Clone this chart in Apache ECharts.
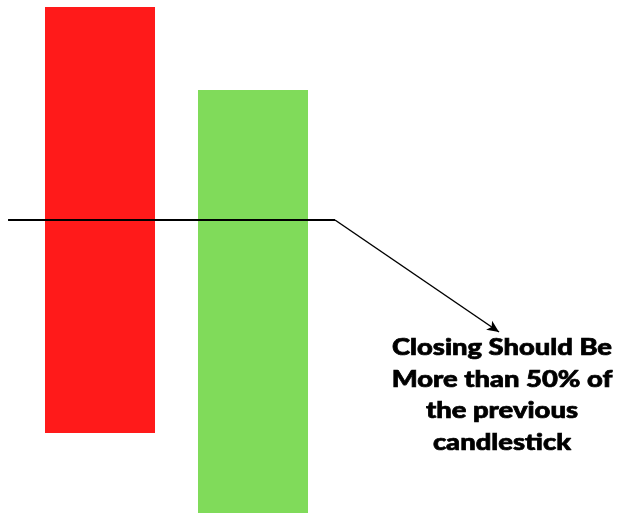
<!DOCTYPE html>
<html><head><meta charset="utf-8">
<script src="https://cdn.jsdelivr.net/npm/echarts@6/dist/echarts.min.js"></script>
<style>html,body{margin:0;padding:0;background:#fff}#c{width:629px;height:513px}</style>
</head><body><div id="c"></div>
<script>
// candles: [xIndex, open, close]
const candleX = [1, 2];
const candleOpen = [506, 0];
const candleClose = [80, 423];
const candleColors = ['#ff1a1a', '#80db5a'];
const levelPrice = 293;
const levelStart = 0.399, levelEnd = 2.536;
const arrowEnd = [3.608, 181];
const noteLines = ['Closing Should Be', 'More than 50% of', 'the previous', 'candlestick'];

const chart = echarts.init(document.getElementById('c'));
const halfW = 0.3595;
chart.setOption({
  animation: false,
  grid: {left: 0, right: 0, top: 0, bottom: 0},
  xAxis: {type: 'value', min: 0.3464, max: 4.4575, show: false},
  yAxis: {type: 'value', min: 0, max: 513, show: false},
  series: [{
    type: 'custom',
    data: candleX.map((x, i) => [x, candleOpen[i], candleClose[i], i]),
    renderItem: function (params, api) {
      const x = api.value(0);
      const a = api.coord([x - halfW, api.value(1)]);
      const b = api.coord([x + halfW, api.value(2)]);
      return {
        type: 'rect',
        shape: {x: a[0], y: Math.min(a[1], b[1]), width: b[0] - a[0], height: Math.abs(b[1] - a[1])},
        style: {fill: candleColors[api.value(3)]}
      };
    },
    markLine: {
      silent: true,
      symbol: ['none', 'none'],
      label: {show: false},
      data: [
        [{coord: [levelStart, levelPrice], lineStyle: {color: '#000', width: 2, type: 'solid'}}, {coord: [levelEnd, levelPrice]}],
        [{coord: [levelEnd, levelPrice], symbol: 'none', lineStyle: {color: '#000', width: 1.5, type: 'solid'}}, {coord: arrowEnd, symbol: 'arrow', symbolSize: [8, 12]}]
      ]
    }
  }],
  graphic: [{
    type: 'text',
    x: 502, y: 332,
    scaleX: 1.19,
    style: {
      text: noteLines.join('\n'),
      font: '900 23px Lato',
      fill: '#000',
      stroke: '#000',
      lineWidth: 0.7,
      align: 'center',
      verticalAlign: 'top',
      lineHeight: 31.5
    }
  }]
});
</script></body></html>
